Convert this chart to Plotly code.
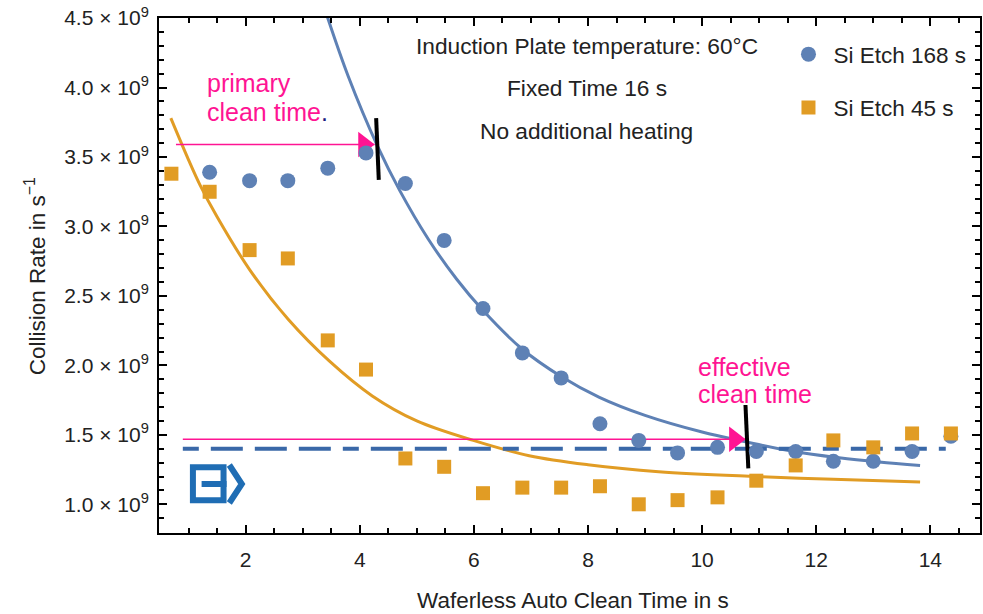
import plotly.graph_objects as go

# ---------------- data (collision rate in units of 1e9 s^-1) ----------------
clean_time_168 = [1.37, 2.07, 2.74, 3.44, 4.11, 4.80, 5.48, 6.16, 6.85, 7.53, 8.21,
                  8.89, 9.57, 10.27, 10.95, 11.64, 12.30, 13.00, 13.68, 14.36]
rate_168 = [3.39, 3.33, 3.33, 3.42, 3.53, 3.31, 2.90, 2.41, 2.09, 1.91, 1.58,
            1.46, 1.37, 1.41, 1.38, 1.38, 1.31, 1.31, 1.38, 1.49]

clean_time_45 = [0.70, 1.37, 2.07, 2.74, 3.44, 4.11, 4.80, 5.48, 6.16, 6.85, 7.53,
                 8.21, 8.89, 9.57, 10.27, 10.95, 11.64, 12.30, 13.00, 13.68, 14.36]
rate_45 = [3.38, 3.25, 2.83, 2.77, 2.18, 1.97, 1.33, 1.27, 1.08, 1.12, 1.12,
           1.13, 1.00, 1.03, 1.05, 1.17, 1.28, 1.46, 1.41, 1.51, 1.51]

# fitted curves
fit_time_168 = [3.40, 3.80, 4.31, 4.70, 5.20, 5.70, 6.15, 6.84, 7.53, 8.20, 9.00,
                10.00, 10.76, 11.60, 12.40, 13.10, 13.82]
fit_rate_168 = [4.55, 4.08, 3.58, 3.26, 2.91, 2.62, 2.40, 2.12, 1.92, 1.77, 1.64,
                1.52, 1.45, 1.38, 1.335, 1.305, 1.28]

fit_time_45 = [0.69, 1.00, 1.20, 1.50, 2.07, 2.75, 3.47, 4.22, 5.00, 5.99, 6.97,
               8.00, 9.24, 10.96, 12.30, 13.82]
fit_rate_45 = [3.78, 3.48, 3.30, 3.07, 2.69, 2.33, 2.03, 1.78, 1.60, 1.46, 1.35,
               1.285, 1.235, 1.20, 1.18, 1.16]

# reference lines / markers
baseline_rate = 1.40
baseline_span = [0.90, 14.27]
primary_rate = 3.59
primary_span = [0.78, 4.26]
effective_rate = 1.468
effective_span = [0.90, 10.76]
primary_tick_x = [4.288, 4.334]
primary_tick_y = [3.78, 3.335]
effective_tick_x = [10.76, 10.81]
effective_tick_y = [1.715, 1.259]

y_tick_vals = [1.0, 1.5, 2.0, 2.5, 3.0, 3.5, 4.0, 4.5]
y_tick_text = [f"{v:.1f} \u00d7 10<sup>9</sup>" for v in y_tick_vals]
x_tick_vals = [2, 4, 6, 8, 10, 12, 14]

BLUE = "#5E81B5"
ORANGE = "#E19C24"
DARKBLUE = "#3A68A8"
PINK = "#FF1493"
TXT = "#222222"
FONT = "Liberation Sans, Arial, sans-serif"

# plot area in pixels
L, R, T, B = 159, 982, 18, 533
W, H = 983, 614


def px(xp):
    return (xp - L) / (R - L)


def py(yp):
    return (B - yp) / (B - T)


fig = go.Figure()

# fit curves
fig.add_trace(go.Scatter(x=fit_time_168, y=fit_rate_168, mode="lines",
                         line=dict(color=BLUE, width=3, shape="spline"),
                         showlegend=False, hoverinfo="skip"))
fig.add_trace(go.Scatter(x=fit_time_45, y=fit_rate_45, mode="lines",
                         line=dict(color=ORANGE, width=3, shape="spline"),
                         showlegend=False, hoverinfo="skip"))

# dashed baseline
fig.add_trace(go.Scatter(x=baseline_span, y=[baseline_rate, baseline_rate], mode="lines",
                         line=dict(color=DARKBLUE, width=4, dash="16px,12px,32px,12px,32px,12px,32px,12px"),
                         showlegend=False, hoverinfo="skip"))

# magenta arrows (line + triangle head)
for span, rate in [(primary_span, primary_rate), (effective_span, effective_rate)]:
    fig.add_trace(go.Scatter(x=span, y=[rate, rate], mode="lines",
                             line=dict(color=PINK, width=1.5),
                             showlegend=False, hoverinfo="skip"))
    fig.add_trace(go.Scatter(x=[span[1] - 0.19], y=[rate], mode="markers",
                             marker=dict(symbol="triangle-right", size=22, color=PINK,
                                         line=dict(width=0)),
                             showlegend=False, hoverinfo="skip"))

# black markers on curve
for tx, ty in [(primary_tick_x, primary_tick_y), (effective_tick_x, effective_tick_y)]:
    fig.add_trace(go.Scatter(x=tx, y=ty, mode="lines",
                             line=dict(color="black", width=4),
                             showlegend=False, hoverinfo="skip"))

# data points
fig.add_trace(go.Scatter(x=clean_time_168, y=rate_168, mode="markers", name="Si Etch 168 s",
                         legendgroup="a",
                         marker=dict(symbol="circle", size=15, color=BLUE, line=dict(width=0))))
fig.add_trace(go.Scatter(x=clean_time_45, y=rate_45, mode="markers", name="Si Etch 45 s",
                         legendgroup="b",
                         marker=dict(symbol="square", size=14, color=ORANGE, line=dict(width=0))))

axis_common = dict(showline=True, linecolor="black", linewidth=2, mirror="ticks",
                   ticks="inside", ticklen=8, tickwidth=1.5, tickcolor="black",
                   showgrid=False, zeroline=False,
                   tickfont=dict(family=FONT, size=21, color=TXT))

fig.update_xaxes(range=[0.4825, 14.87], tickvals=x_tick_vals, ticklabelstandoff=7,
                 minor=dict(dtick=0.5, tick0=0, ticks="inside", ticklen=5, tickwidth=1.5,
                            tickcolor="black", showgrid=False),
                 **axis_common)
fig.update_yaxes(range=[0.7934, 4.501], tickvals=y_tick_vals, ticktext=y_tick_text,
                 ticklabelstandoff=4,
                 minor=dict(dtick=0.1, tick0=0, ticks="inside", ticklen=5, tickwidth=1.5,
                            tickcolor="black", showgrid=False),
                 **axis_common)

annotations = [
    dict(text="Waferless Auto Clean Time in s", x=px(574.5), y=py(600), font=dict(size=22.5)),
    dict(text="Collision Rate in s<sup>\u22121</sup>", x=px(35), y=py(276), textangle=-90,
         font=dict(size=22.5)),
    dict(text="Induction Plate temperature: 60\u00b0C", x=px(588), y=py(46), font=dict(size=22.7)),
    dict(text="Fixed Time 16 s", x=px(588), y=py(88), font=dict(size=22.7)),
    dict(text="No additional heating", x=px(588), y=py(131), font=dict(size=22.7)),
    dict(text="primary", x=px(205), y=py(83),
         xanchor="left", font=dict(size=25, color=PINK)),
    dict(text="clean time<span style='color:#1a1a80'>.</span>", x=px(205), y=py(112),
         xanchor="left", font=dict(size=25, color=PINK)),
    dict(text="effective", x=px(697), y=py(367),
         xanchor="left", font=dict(size=25, color=PINK)),
    dict(text="clean time", x=px(697), y=py(394),
         xanchor="left", font=dict(size=25, color=PINK)),
]
for a in annotations:
    a.setdefault("xanchor", "center")
    a.update(xref="paper", yref="paper", yanchor="middle", showarrow=False)
    f = dict(family=FONT, color=TXT)
    f.update(a["font"])
    a["font"] = f
fig.update_layout(annotations=annotations)

# logo (decorative)
LOGO = "#1F6DB4"
fig.add_shape(type="rect", xref="paper", yref="paper",
              x0=px(193), x1=px(223.7), y0=py(500.3), y1=py(467.3),
              line=dict(color=LOGO, width=6), fillcolor="rgba(0,0,0,0)")
fig.add_shape(type="line", xref="paper", yref="paper",
              x0=px(201.7), x1=px(226.7), y0=py(484), y1=py(484),
              line=dict(color=LOGO, width=6))
fig.add_shape(type="path", xref="paper", yref="paper",
              path=f"M {px(229.5)} {py(465)} L {px(242)} {py(484)} L {px(229.5)} {py(503)}",
              line=dict(color=LOGO, width=6))

fig.update_layout(
    width=W, height=H,
    margin=dict(l=L, r=W - R, t=T, b=H - B, pad=0),
    paper_bgcolor="white", plot_bgcolor="white",
    font=dict(family=FONT, color=TXT),
    legend=dict(x=px(785), y=py(33), xanchor="left", yanchor="top",
                font=dict(family=FONT, size=22.5, color=TXT), itemwidth=40,
                tracegroupgap=21, bgcolor="rgba(0,0,0,0)", itemsizing="trace"),
)

fig.write_html("out.html")
